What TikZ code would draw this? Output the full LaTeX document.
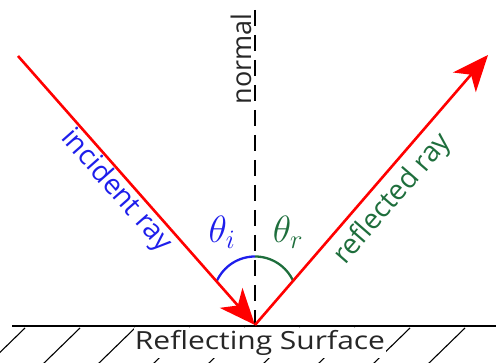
\documentclass[tikz,border=0pt]{standalone}
\usepackage{fix-cm}
\usepackage{fontspec}
\setmainfont{Open Sans}
\usetikzlibrary{arrows.meta}
\definecolor{rayred}{RGB}{255,0,0}
\definecolor{incblue}{RGB}{30,30,235}
\definecolor{refgreen}{RGB}{30,110,60}
\begin{document}
\begin{tikzpicture}[x=1pt,y=1pt,
  ray/.style={rayred,line width=2.6pt},
  bigtip/.style={-{Stealth[length=36pt,width=30pt,inset=10pt]}},
  hatch/.style={black,line width=1.1pt},
  lbl/.style={inner sep=0pt,font=\fontsize{28}{28}\selectfont},
  ang/.style={inner sep=0pt,font=\fontsize{38}{38}\selectfont}]
\useasboundingbox (0,0) rectangle (496,-363);
% points
\coordinate (P) at (255,-325);
\coordinate (S) at (18,-56);
\coordinate (E) at (488,-55);
\coordinate (Ntop) at (255,-10);
\coordinate (Sl) at (12,-326);
\coordinate (Sr) at (496,-326);
% hatching
\foreach \x in {25,80,...,465} {
  \draw[hatch] (\x,-328) -- (\x-37,-364);
}
% surface
\draw[black,line width=1.4pt] (Sl) -- (Sr);
\node[fill=white,inner xsep=1pt,inner ysep=2pt,font=\fontsize{25}{25}\selectfont,text=black!85] (surf) at (260,-343) {\scalebox{1.2}[1]{Reflecting Surface}};
% normal
\draw[black,line width=1.3pt,dash pattern=on 16pt off 9pt] (Ntop) -- (P);
\node[rotate=90,inner sep=0pt,font=\fontsize{27}{27}\selectfont,text=black!85] (norm) at (241,-59) {normal};
% arcs
\draw[incblue,line width=2.3pt] (255,-256.5) arc[start angle=90,end angle=156.3,radius=42];
\draw[refgreen,line width=2.3pt] (255,-256.5) arc[start angle=90,end angle=23.7,radius=42];
% rays
\draw[ray,bigtip] (S) -- (P);
\draw[ray,bigtip] (P) -- (E);
% labels
\node[lbl,text=incblue,rotate=-48.6] (inc) at (116,-191) {incident ray};
\node[lbl,text=refgreen,rotate=49] (refl) at (393,-199) {reflected ray};
\node[ang,text=incblue] (ti) at (222,-232) {$\theta_i$};
\node[ang,text=refgreen] (tr) at (288,-232) {$\theta_r$};
\end{tikzpicture}
\end{document}
